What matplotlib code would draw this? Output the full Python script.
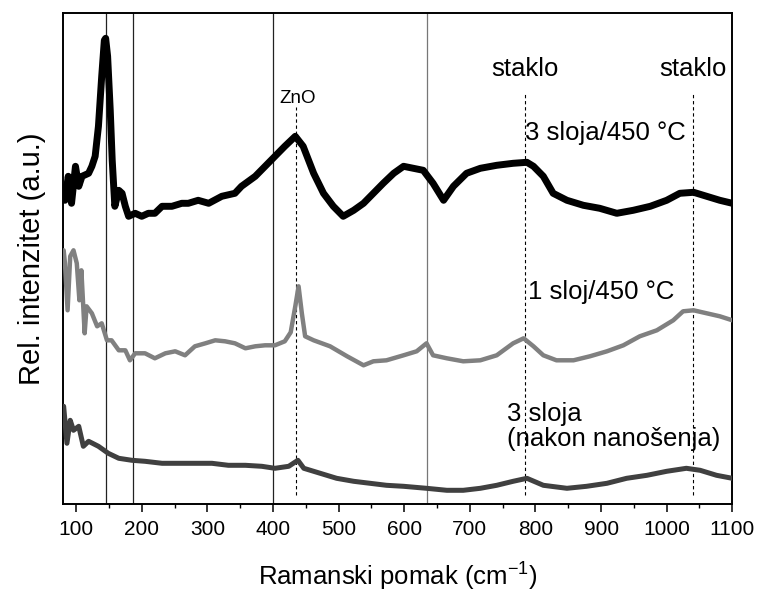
import matplotlib
matplotlib.use("Agg")
import matplotlib.pyplot as plt
from matplotlib.ticker import MultipleLocator

plt.rcParams['font.family'] = ['Liberation Sans', 'DejaVu Sans']

# --- data (Raman shift in cm^-1, relative intensity in arbitrary units) ---
x_top = [81, 83, 88, 93, 99, 104, 109, 119, 124, 129, 134, 139, 143, 145, 148, 152, 155, 159,
         165, 170, 175, 180, 190, 200, 210, 220, 231, 246, 261, 271, 286, 302, 322, 342, 352,
         373, 388, 403, 418, 434, 446, 462, 477, 492, 507, 523, 538, 553, 568, 584, 599, 614,
         629, 644, 660, 675, 695, 716, 741, 766, 787, 797, 812, 827, 848, 873, 898, 924, 949,
         975, 1000, 1020, 1041, 1061, 1081, 1100]
y_top = [317, 304, 328, 301, 338, 318, 328, 331, 338, 348, 378, 428, 464, 466, 448, 394, 344, 298,
         314, 311, 298, 288, 291, 288, 291, 291, 298, 298, 301, 301, 304, 301, 308, 311, 318,
         328, 338, 348, 358, 368, 358, 331, 311, 298, 288, 294, 301, 311, 321, 331, 338, 336,
         334, 321, 304, 318, 331, 336, 339, 341, 342, 338, 328, 311, 304, 299, 296, 291, 294,
         298, 304, 311, 312, 308, 304, 301]

x_mid = [81, 83, 87, 91, 96, 101, 105, 108, 113, 116, 124, 132, 139, 147, 154, 165, 175, 182,
         190, 205, 220, 236, 251, 266, 281, 297, 312, 327, 342, 358, 373, 388, 403, 418, 427,
         434, 439, 444, 449, 462, 487, 513, 538, 553, 573, 599, 619, 634, 644, 665, 690, 716,
         741, 766, 782, 797, 812, 832, 858, 883, 909, 934, 959, 985, 1010, 1025, 1041, 1061,
         1081, 1100]
y_mid = [254, 241, 194, 248, 254, 241, 204, 234, 171, 198, 191, 178, 181, 164, 164, 154, 154, 144,
         151, 151, 146, 151, 153, 149, 158, 161, 164, 163, 161, 156, 158, 159, 159, 163, 172,
         198, 218, 191, 168, 164, 158, 148, 139, 143, 144, 149, 153, 161, 149, 146, 143, 144,
         149, 161, 166, 158, 149, 144, 144, 148, 153, 159, 168, 174, 184, 193, 194, 191,
         188, 184]

x_bot = [81, 86, 91, 96, 104, 111, 119, 134, 149, 165, 185, 205, 231, 256, 281, 307, 332, 358,
         383, 403, 424, 438, 447, 472, 497, 523, 548, 573, 599, 634, 665, 690, 716, 741, 766,
         787, 812, 848, 878, 909, 939, 970, 1000, 1030, 1051, 1076, 1100]
y_bot = [98, 61, 84, 74, 78, 58, 63, 58, 51, 46, 44, 43, 41, 41, 41, 41, 39, 39,
         38, 36, 38, 44, 36, 31, 26, 23, 21, 19, 18, 16, 14, 14, 16, 19, 23,
         26, 19, 16, 18, 21, 26, 29, 33, 36, 34, 29, 26]

series_labels = ["3 sloja/450 °C", "1 sloj/450 °C", "3 sloja\n(nakon nanošenja)"]

solid_lines = [145, 187, 400, 635]
dashed_lines = [435, 784, 1040]
peak_names = ["ZnO", "staklo", "staklo"]

x_ticks = list(range(100, 1101, 100))

# --- figure ---
fig = plt.figure(figsize=(7.59, 5.95), dpi=100)
ax = fig.add_axes([63 / 759, 1 - 504.3 / 595, (732.3 - 63) / 759, (504.3 - 13) / 595])

ax.set_xlim(80, 1100)
ax.set_ylim(0, 491.3)

# reference lines
for xv, col in zip(solid_lines, ['#222222', '#222222', '#222222', '#777777']):
    ax.axvline(xv, color=col, lw=0.9, zorder=1)

dash_tops = [397, 412, 412]
for xv, top in zip(dashed_lines, dash_tops):
    ax.plot([xv, xv], [9, top], color='black', lw=0.8, ls=(0, (3, 2.5)), zorder=1)

# spectra (noisy traces drawn as thick bands)
ax.plot(x_top, y_top, color='black', lw=5.0, solid_joinstyle='round',
        solid_capstyle='round', zorder=3)
ax.plot(x_mid, y_mid, color='#808080', lw=3.2, solid_joinstyle='round',
        solid_capstyle='round', zorder=3)
ax.plot(x_bot, y_bot, color='#404040', lw=3.6, solid_joinstyle='round',
        solid_capstyle='round', zorder=3)

# annotations
ax.text(437.5, 406, peak_names[0], fontsize=13.5, ha='center', va='center')
ax.text(784, 435, peak_names[1], fontsize=18.5, ha='center', va='center')
ax.text(1040, 435, peak_names[2], fontsize=18.5, ha='center', va='center')
ax.text(784, 371, series_labels[0], fontsize=18.5, ha='left', va='center')
ax.text(789, 212, series_labels[1], fontsize=18.5, ha='left', va='center')
ax.text(756, 78, series_labels[2], fontsize=18.5, ha='left', va='center', linespacing=1.05)

# axes styling
ax.set_xticks(x_ticks)
ax.xaxis.set_minor_locator(MultipleLocator(50))
ax.tick_params(axis='x', which='major', direction='out', length=5.5, width=1.1,
               labelsize=15, pad=6)
ax.tick_params(axis='x', which='minor', direction='out', length=3, width=1.0)
ax.set_yticks([])
for sp in ax.spines.values():
    sp.set_linewidth(1.4)

ax.set_xlabel("Ramanski pomak (cm$^{\\mathregular{-1}}$)", fontsize=18.5, labelpad=14)
ax.set_ylabel("Rel. intenzitet (a.u.)", fontsize=21, labelpad=12)

fig.savefig("out.png", dpi=100)
